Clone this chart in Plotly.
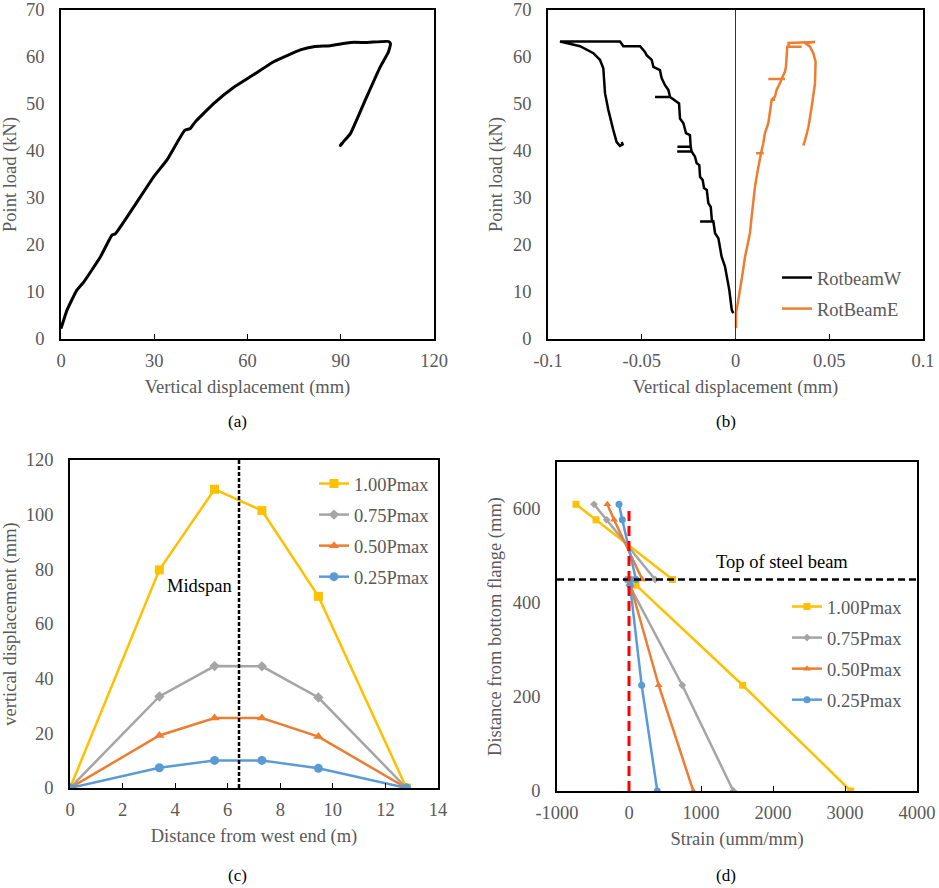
import plotly.graph_objects as go

# ---------------- data ----------------
# (a) load-displacement curve
a_disp = [0, 1.9, 5.1, 7.3, 12.7, 16.4, 17.5, 23.4, 29.8, 34.1, 39.8, 41.6, 43.2, 49.1, 55.5,
          61.9, 68.4, 77.0, 81.3, 86.6, 93.1, 98.4, 105.4, 106.0, 105.3, 102.7, 97.4, 93.1, 90.9, 89.9, 90.4]
a_load = [2.2, 6.1, 10.4, 12.1, 17.5, 22.1, 22.4, 28.1, 34.5, 38.1, 44.4, 44.8, 46.2, 50.1, 53.5,
          56.2, 59.0, 61.5, 62.2, 62.4, 63.1, 63.1, 63.3, 62.8, 61.0, 57.9, 50.1, 43.7, 42.0, 41.2, 41.7]

# (b) beam rotations
w_rot = [-0.0012, -0.0020, -0.0033, -0.0047, -0.0056, -0.0074, -0.0083, -0.0091, -0.0109,
         -0.0118, -0.0189, -0.0118, -0.0126, -0.0132, -0.0145, -0.0153, -0.0168, -0.0175,
         -0.0189, -0.0193, -0.0207, -0.0216, -0.0234, -0.0311, -0.0234, -0.0239, -0.0310,
         -0.0239, -0.0243, -0.0264, -0.0278, -0.0296, -0.0301, -0.0331, -0.0349, -0.0429,
         -0.0349, -0.0358, -0.0376, -0.0394, -0.0403, -0.0438, -0.0447, -0.0474, -0.0483,
         -0.0509, -0.0598, -0.0616, -0.0936, -0.0829, -0.0758, -0.0723, -0.0705, -0.0696,
         -0.0678, -0.0652, -0.0634, -0.0616, -0.0602, -0.0607]
w_load = [5.5, 6.2, 10.4, 13.3, 15.4, 17.5, 19.6, 21.4, 22.5,
          25.0, 25.0, 25.0, 25.3, 28.1, 28.9, 31.7, 32.1, 33.8,
          34.5, 37.0, 37.4, 38.8, 39.9, 39.9, 39.9, 40.9, 40.9,
          40.9, 43.4, 43.8, 45.9, 46.9, 50.1, 50.9, 51.5, 51.5,
          51.5, 53.0, 54.0, 55.5, 57.2, 57.9, 59.4, 60.4, 61.1,
          62.3, 62.3, 63.3, 63.3, 62.3, 60.8, 59.4, 57.6, 52.3,
          48.7, 44.5, 41.9, 41.1, 41.4, 41.9]

e_rot = [0.0003, 0.0003, 0.0015, 0.0028, 0.0038, 0.0051, 0.0068, 0.0077, 0.0086, 0.0095,
         0.0104, 0.0116, 0.0127, 0.0136, 0.0110, 0.0150, 0.0136, 0.0148, 0.0157, 0.0175,
         0.0184, 0.0193, 0.0211, 0.0193, 0.0211, 0.0219, 0.0237, 0.0246, 0.0175, 0.0264,
         0.0246, 0.0264, 0.0269, 0.0276, 0.0353, 0.0283, 0.0283, 0.0424, 0.0371, 0.0397,
         0.0415, 0.0427, 0.0424, 0.0406, 0.0389, 0.0371, 0.0362, 0.0367]
e_load = [2.3, 5.5, 8.3, 11.1, 14.0, 17.5, 20.4, 22.5, 26.0, 29.6,
          32.4, 35.3, 37.4, 39.5, 39.5, 39.5, 39.5, 41.6, 43.8, 45.9,
          48.0, 50.9, 50.9, 50.9, 51.6, 53.0, 54.4, 55.3, 55.3, 55.3,
          55.3, 56.9, 57.9, 62.2, 62.2, 62.2, 63.0, 63.2, 63.0, 62.2,
          60.8, 59.0, 54.4, 49.3, 45.1, 42.3, 41.2, 41.6]

# (c) deflected shape
c_dist = [0, 3.4, 5.5, 7.3, 9.45, 12.8]
c_names = ["1.00Pmax", "0.75Pmax", "0.50Pmax", "0.25Pmax"]
c_100 = [0, 79.8, 109.3, 101.5, 70.1, 0]
c_075 = [0, 33.5, 44.6, 44.5, 33.1, 0]
c_050 = [0, 19.2, 25.6, 25.6, 18.8, 0]
c_025 = [0, 7.4, 10.1, 10.1, 7.2, 0]
MIDSPAN_X = 6.43

# (d) strain profiles (None separates slab gauges from steel gauges)
d_height = [610, 577, 450, None, 450, 438, 225, 0]
d_100 = [-736, -458, 605, None, 23, 97, 1579, 3079]
d_075 = [-486, -310, 363, None, -42, 4, 740, 1449]
d_050 = [-301, -208, 185, None, -10, 20, 412, 893]
d_025 = [-139, -93, 97, None, 10, 15, 176, 393]
TOP_OF_STEEL = 450
NEUTRAL_STRAIN = 0
NEUTRAL_TOP = 600

# tick labels
a_xticks = [0, 30, 60, 90, 120]
b_xticks = [-0.1, -0.05, 0, 0.05, 0.1]
b_xticktext = ["-0.1", "-0.05", "0", "0.05", "0.1"]
d_xticks = [-1000, 0, 1000, 2000, 3000, 4000]
d_xticktext = ["-1000", "0", "1000", "2000", "3000", "4000"]
d_yticks = [0, 200, 400, 600]

# ---------------- styling ----------------
FONT = "Liberation Serif, Times New Roman, serif"
GREY = "#595959"
FS = 18.5
YEL, GRY, ORG, BLU = "#FFC000", "#A5A5A5", "#ED7D31", "#5B9BD5"

W, H = 939, 888
def dx(p0, p1):
    return [p0 / W, p1 / W]
def dy(top, bot):
    return [1 - bot / H, 1 - top / H]

fig = go.Figure()

# (a)
fig.add_trace(go.Scatter(x=a_disp, y=a_load, mode="lines",
                         line=dict(color="black", width=3, shape="spline", smoothing=0.4),
                         xaxis="x", yaxis="y", showlegend=False))
# (b)
fig.add_trace(go.Scatter(x=w_rot, y=w_load, mode="lines", name="RotbeamW", legendgroup="b1",
                         line=dict(color="black", width=2.5), xaxis="x2", yaxis="y2", legend="legend"))
fig.add_trace(go.Scatter(x=e_rot, y=e_load, mode="lines", name="RotBeamE", legendgroup="b2",
                         line=dict(color=ORG, width=2.5), xaxis="x2", yaxis="y2", legend="legend"))
# (c)
for i, (name, vals, col, sym, sz) in enumerate(zip(c_names, [c_100, c_075, c_050, c_025], [YEL, GRY, ORG, BLU],
                                                   ["square", "diamond", "triangle-up", "circle"], [9, 8, 9, 9])):
    fig.add_trace(go.Scatter(x=c_dist, y=vals, mode="lines+markers", name=name, legendgroup=f"c{i}",
                             line=dict(color=col, width=2.5), marker=dict(symbol=sym, size=sz, color=col),
                             xaxis="x3", yaxis="y3", legend="legend2"))
# (d)
for i, (name, vals, col, sym, sz) in enumerate(zip(c_names, [d_100, d_075, d_050, d_025], [YEL, GRY, ORG, BLU],
                                                   ["square", "diamond", "triangle-up", "circle"], [7, 6, 7, 7])):
    fig.add_trace(go.Scatter(x=vals, y=d_height, mode="lines+markers", name=name, legendgroup=f"d{i}",
                             line=dict(color=col, width=2.5), marker=dict(symbol=sym, size=sz, color=col),
                             xaxis="x4", yaxis="y4", legend="legend3", connectgaps=False))

ax_common = dict(showgrid=False, zeroline=False, showline=True, linecolor="black", linewidth=1.5,
                 mirror=True, automargin=False, ticklabeloverflow="allow",
                 tickfont=dict(family=FONT, size=FS, color=GREY))
xcommon = dict(ax_common, ticks="inside", ticklen=5, tickcolor="black", tickwidth=1, ticklabelstandoff=4)
ycommon = dict(ax_common, ticks="", ticklabelstandoff=11)
tfont = dict(family=FONT, size=FS, color=GREY)
XT_STANDOFF, YT_STANDOFF = 10, 6

legend_style = dict(xanchor="left", yanchor="top", bgcolor="rgba(0,0,0,0)", tracegroupgap=4,
                    font=dict(family=FONT, size=FS, color=GREY))

fig.update_layout(
    width=W, height=H, margin=dict(l=0, r=0, t=0, b=0, autoexpand=False),
    paper_bgcolor="white", plot_bgcolor="white",
    font=dict(family=FONT, size=FS, color=GREY),
    xaxis=dict(xcommon, domain=dx(61, 434), range=[0, 120], tickvals=a_xticks, anchor="y",
               title=dict(text="Vertical displacement (mm)", font=tfont, standoff=XT_STANDOFF)),
    yaxis=dict(ycommon, domain=dy(10, 339), range=[0, 70], dtick=10, anchor="x",
               title=dict(text="Point load (kN)", font=tfont, standoff=YT_STANDOFF)),
    xaxis2=dict(xcommon, domain=dx(548, 923), range=[-0.1, 0.1], tickvals=b_xticks, ticktext=b_xticktext,
                anchor="y2", title=dict(text="Vertical displacement (mm)", font=tfont, standoff=XT_STANDOFF)),
    yaxis2=dict(ycommon, domain=dy(10, 339), range=[0, 70], dtick=10, anchor="x2",
                title=dict(text="Point load (kN)", font=tfont, standoff=YT_STANDOFF)),
    xaxis3=dict(xcommon, domain=dx(70, 438), range=[0, 14], dtick=2, anchor="y3",
                title=dict(text="Distance from west end (m)", font=tfont, standoff=XT_STANDOFF)),
    yaxis3=dict(ycommon, domain=dy(460, 788), range=[0, 120], dtick=20, anchor="x3",
                title=dict(text="vertical displacement (mm)", font=tfont, standoff=YT_STANDOFF)),
    xaxis4=dict(xcommon, domain=dx(557, 917), range=[-1000, 4000], tickvals=d_xticks, ticktext=d_xticktext,
                anchor="y4", title=dict(text="Strain (umm/mm)", font=tfont, standoff=XT_STANDOFF)),
    yaxis4=dict(ycommon, domain=dy(462, 791), range=[0, 700], tickvals=d_yticks, anchor="x4",
                title=dict(text="Distance from bottom flange (mm)", font=tfont, standoff=YT_STANDOFF)),
    legend=dict(legend_style, x=(782 - 5) / W, y=1 - 259 / H),
    legend2=dict(legend_style, x=(319 - 5) / W, y=1 - 465 / H),
    legend3=dict(legend_style, x=(792 - 5) / W, y=1 - 588 / H),
)

# reference lines
fig.add_shape(type="line", xref="x2", yref="y2", x0=0, x1=0, y0=0, y1=70, line=dict(color="#333333", width=1))
fig.add_shape(type="line", xref="x3", yref="y3", x0=MIDSPAN_X, x1=MIDSPAN_X, y0=0, y1=120,
              line=dict(color="black", width=2.5, dash="4px,2px"))
fig.add_shape(type="line", xref="x4", yref="y4", x0=-1000, x1=4000, y0=TOP_OF_STEEL, y1=TOP_OF_STEEL,
              line=dict(color="black", width=2.5, dash="7px,4px"))
fig.add_shape(type="line", xref="x4", yref="y4", x0=NEUTRAL_STRAIN, x1=NEUTRAL_STRAIN, y0=0, y1=NEUTRAL_TOP,
              line=dict(color="#FF0000", width=3, dash="10px,5px"))

# text annotations
fig.add_annotation(x=4.92, y=74, xref="x3", yref="y3", text="Midspan", showarrow=False,
                   font=dict(family=FONT, size=FS, color="black"))
fig.add_annotation(x=2125, y=487, xref="x4", yref="y4", text="Top of steel beam", showarrow=False,
                   font=dict(family=FONT, size=FS, color="black"))
for lab, px, py in [("(a)", 237, 422), ("(b)", 726, 422), ("(c)", 237, 875), ("(d)", 726, 875)]:
    fig.add_annotation(x=px / W, y=1 - py / H, xref="paper", yref="paper", text=lab, showarrow=False,
                       xanchor="center", yanchor="middle",
                       font=dict(family=FONT, size=17, color="black"))

fig.write_html("out.html", config={"displayModeBar": False},
               post_script="document.body.style.margin='0px';")
